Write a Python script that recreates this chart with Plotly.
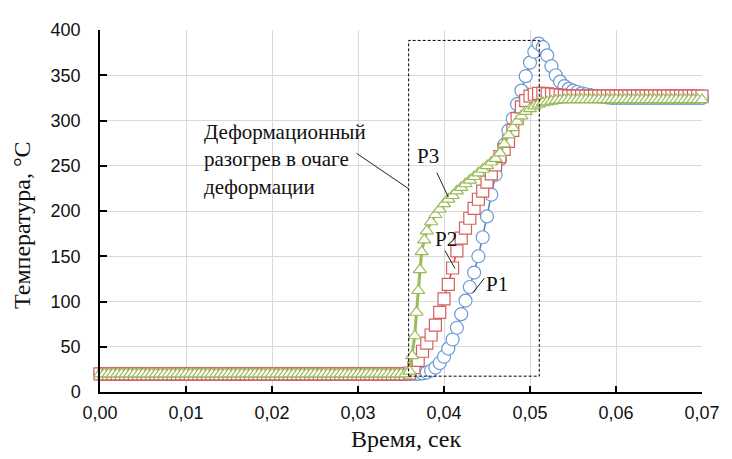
import plotly.graph_objects as go

# ---------------- data ----------------
TIME = [
    0.0000, 0.0005, 0.0010, 0.0015, 0.0020, 0.0025, 0.0030, 0.0035, 0.0040, 0.0045,
    0.0050, 0.0055, 0.0060, 0.0065, 0.0070, 0.0075, 0.0080, 0.0085, 0.0090, 0.0095,
    0.0100, 0.0105, 0.0110, 0.0115, 0.0120, 0.0125, 0.0130, 0.0135, 0.0140, 0.0145,
    0.0150, 0.0155, 0.0160, 0.0165, 0.0170, 0.0175, 0.0180, 0.0185, 0.0190, 0.0195,
    0.0200, 0.0205, 0.0210, 0.0215, 0.0220, 0.0225, 0.0230, 0.0235, 0.0240, 0.0245,
    0.0250, 0.0255, 0.0260, 0.0265, 0.0270, 0.0275, 0.0280, 0.0285, 0.0290, 0.0295,
    0.0300, 0.0305, 0.0310, 0.0315, 0.0320, 0.0325, 0.0330, 0.0335, 0.0340, 0.0345,
    0.0350, 0.0355, 0.0360, 0.0365, 0.0370, 0.0375, 0.0380, 0.0385, 0.0390, 0.0395,
    0.0400, 0.0405, 0.0410, 0.0415, 0.0420, 0.0425, 0.0430, 0.0435, 0.0440, 0.0445,
    0.0450, 0.0455, 0.0460, 0.0465, 0.0470, 0.0475, 0.0480, 0.0485, 0.0490, 0.0495,
    0.0500, 0.0505, 0.0510, 0.0515, 0.0520, 0.0525, 0.0530, 0.0535, 0.0540, 0.0545,
    0.0550, 0.0555, 0.0560, 0.0565, 0.0570, 0.0575, 0.0580, 0.0585, 0.0590, 0.0595,
    0.0600, 0.0605, 0.0610, 0.0615, 0.0620, 0.0625, 0.0630, 0.0635, 0.0640, 0.0645,
    0.0650, 0.0655, 0.0660, 0.0665, 0.0670, 0.0675, 0.0680, 0.0685, 0.0690, 0.0695,
    0.0700,
]

P1 = [
    20, 20, 20, 20, 20, 20, 20, 20, 20, 20,
    20, 20, 20, 20, 20, 20, 20, 20, 20, 20,
    20, 20, 20, 20, 20, 20, 20, 20, 20, 20,
    20, 20, 20, 20, 20, 20, 20, 20, 20, 20,
    20, 20, 20, 20, 20, 20, 20, 20, 20, 20,
    20, 20, 20, 20, 20, 20, 20, 20, 20, 20,
    20, 20, 20, 20, 20, 20, 20, 20, 20, 20,
    20, 20, 20, 20, 20, 20.5, 21.5, 23.5, 27, 32,
    39, 48, 58, 71, 86, 101, 116, 132, 150, 171,
    194, 218, 240, 257, 273, 289, 302, 318, 333, 349,
    364, 376, 385, 381, 372, 360, 350, 343, 338, 335,
    333, 331.5, 330, 329, 328, 327, 326.5, 326, 325.5, 325,
    325, 325, 325, 325, 325, 325, 325, 325, 325, 325,
    325, 325, 325, 325, 325, 325, 325, 325, 325, 325,
    325,
]

P2 = [
    20, 20, 20, 20, 20, 20, 20, 20, 20, 20,
    20, 20, 20, 20, 20, 20, 20, 20, 20, 20,
    20, 20, 20, 20, 20, 20, 20, 20, 20, 20,
    20, 20, 20, 20, 20, 20, 20, 20, 20, 20,
    20, 20, 20, 20, 20, 20, 20, 20, 20, 20,
    20, 20, 20, 20, 20, 20, 20, 20, 20, 20,
    20, 20, 20, 20, 20, 20, 20, 20, 20, 20,
    20, 20, 21, 27, 35, 45, 54, 63, 74, 88,
    103, 119, 137, 156, 170, 181, 192, 203, 213, 222,
    232, 241, 251, 260, 268, 277, 289, 302, 315, 322,
    327, 329, 330, 330, 329.5, 329, 328.5, 328, 327.5, 327,
    327, 327, 327, 327, 327, 327, 327, 327, 327, 327,
    327, 327, 327, 327, 327, 327, 327, 327, 327, 327,
    327, 327, 327, 327, 327, 327, 327, 327, 327, 327,
    327,
]

# P3 has extra samples in its steep rise
P3_TIME = TIME[:72] + [0.0360, 0.0363, 0.0366, 0.0368, 0.0370, 0.0372, 0.0374, 0.0377] + TIME[76:]
P3 = [
    20, 20, 20, 20, 20, 20, 20, 20, 20, 20,
    20, 20, 20, 20, 20, 20, 20, 20, 20, 20,
    20, 20, 20, 20, 20, 20, 20, 20, 20, 20,
    20, 20, 20, 20, 20, 20, 20, 20, 20, 20,
    20, 20, 20, 20, 20, 20, 20, 20, 20, 20,
    20, 20, 20, 20, 20, 20, 20, 20, 20, 20,
    20, 20, 20, 20, 20, 20, 20, 20, 20, 20,
    20, 20,
    23, 40, 62, 88, 112, 135, 155, 168,
    178, 188, 196, 202, 208, 213, 217, 222, 226, 230,
    234, 238, 242, 246, 250, 254, 258, 264, 274, 284,
    292, 299, 305, 310, 313, 316, 318, 319.5, 320.5, 321.3,
    322, 322.5, 323,
    323, 323, 323, 323, 323, 323, 323, 323, 323, 323,
    323, 323, 323, 323, 323, 323, 323, 323, 323, 323,
    323, 323, 323, 323, 323, 323, 323, 323, 323, 323,
    323, 323,
]

SERIES_NAMES = ["P1", "P2", "P3"]
X_TICKS = [0.00, 0.01, 0.02, 0.03, 0.04, 0.05, 0.06, 0.07]
Y_TICKS = [0, 50, 100, 150, 200, 250, 300, 350, 400]

# ---------------- figure ----------------
BLUE = "#6A9AD4"
RED = "#D65F5F"
GREEN = "#9BBB59"
SERIF = "Liberation Serif, Times New Roman, serif"
SANS = "Liberation Sans, Arial, sans-serif"

fig = go.Figure()
fig.add_trace(go.Scatter(
    x=TIME, y=P1, name=SERIES_NAMES[0], mode="lines+markers", cliponaxis=False,
    line=dict(color="#4F81BD", width=1.5),
    marker=dict(symbol="circle", size=13, color="white", line=dict(color=BLUE, width=1.2)),
))
fig.add_trace(go.Scatter(
    x=TIME, y=P2, name=SERIES_NAMES[1], mode="lines+markers", cliponaxis=False,
    line=dict(color="#C0504D", width=1.5),
    marker=dict(symbol="square", size=12, color="white", line=dict(color=RED, width=1.2)),
))
fig.add_trace(go.Scatter(
    x=P3_TIME, y=P3, name=SERIES_NAMES[2], mode="lines+markers", cliponaxis=False,
    line=dict(color=GREEN, width=3),
    marker=dict(symbol="triangle-up", size=11.5, color="white", line=dict(color=GREEN, width=1.2)),
))

# dashed box around the deformation zone
fig.add_shape(type="rect", xref="x", yref="y", x0=0.03589, x1=0.05108, y0=17.5, y1=388.5,
              line=dict(color="black", width=1, dash="3px,2px"), layer="above")

# leader lines
LEADERS = [
    (0.02982, 263.8, 0.03592, 224.4),
    (0.03917, 242.3, 0.04050, 215.4),
    (0.04012, 156.2, 0.04127, 136.6),
    (0.04470, 125.8, 0.04336, 109.7),
]
for x0, y0, x1, y1 in LEADERS:
    fig.add_shape(type="line", xref="x", yref="y", x0=x0, y0=y0, x1=x1, y1=y1,
                  line=dict(color="#222222", width=1), layer="above")

ann_font = dict(family=SERIF, size=21, color="#111111")
fig.add_annotation(x=0.01185, y=303, xref="x", yref="y", xanchor="left", yanchor="top",
                   text="Деформационный<br>разогрев в очаге<br>деформации", align="left",
                   showarrow=False, font=ann_font)
fig.add_annotation(x=0.03818, y=260.8, xref="x", yref="y", text="P3", showarrow=False, font=ann_font)
fig.add_annotation(x=0.04024, y=168.8, xref="x", yref="y", text="P2", showarrow=False, font=ann_font)
fig.add_annotation(x=0.04613, y=119.6, xref="x", yref="y", text="P1", showarrow=False, font=ann_font)

# axis titles
title_font = dict(family=SERIF, size=24, color="#111111")
fig.add_annotation(x=0, y=0.5, xref="paper", yref="paper", xanchor="center", yanchor="middle",
                   xshift=-78, yshift=-14,
                   text="Температура, °С", textangle=-90, showarrow=False, font=title_font)
fig.add_annotation(x=0.5, y=0, xref="paper", yref="paper", xanchor="center", yanchor="middle",
                   xshift=5, yshift=-47,
                   text="Время, сек", showarrow=False, font=title_font)

# page body has an 8px margin: shrink the figure so the plot area lands where the reference has it
fig.update_layout(
    width=724, height=451,
    margin=dict(l=92, r=21, t=12, b=67),
    plot_bgcolor="white", paper_bgcolor="white",
    showlegend=False,
    separators=", ",
    xaxis=dict(range=[0, 0.07], tickvals=X_TICKS, tickformat=".2f",
               showgrid=True, gridcolor="#D9D9D9", gridwidth=1, zeroline=False,
               showline=True, linecolor="black", linewidth=1.5,
               ticks="inside", ticklen=6, tickcolor="black", tickwidth=1.5,
               ticklabelstandoff=4,
               tickfont=dict(family=SANS, size=18, color="#111111")),
    yaxis=dict(range=[0, 400], tickvals=Y_TICKS,
               showgrid=True, gridcolor="#D9D9D9", gridwidth=1, zeroline=False,
               showline=True, linecolor="black", linewidth=1.5,
               ticks="inside", ticklen=7, tickcolor="black", tickwidth=1.5,
               ticklabelstandoff=14,
               tickfont=dict(family=SANS, size=18, color="#111111")),
)

fig.write_html("out.html")
